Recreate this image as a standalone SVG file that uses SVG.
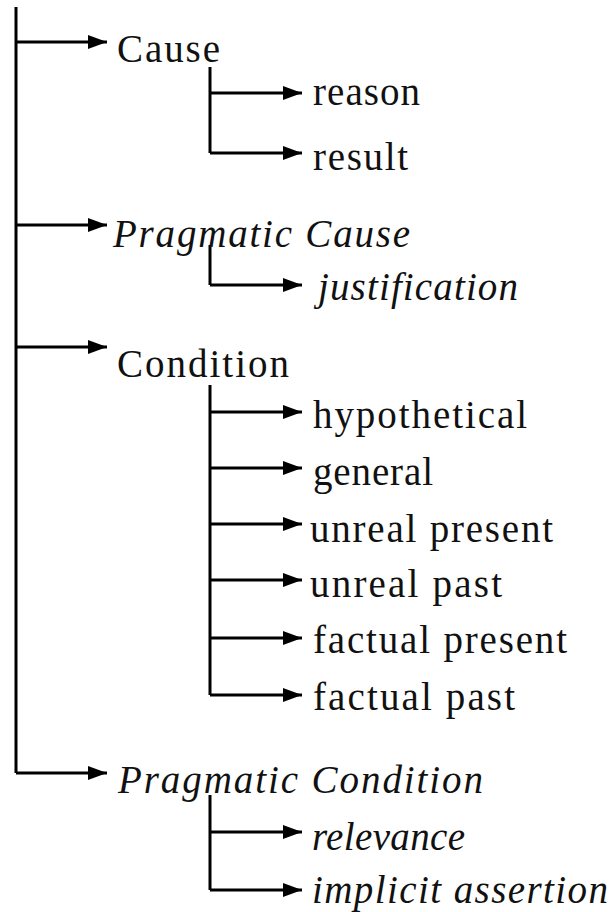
<svg xmlns="http://www.w3.org/2000/svg" width="615" height="912" viewBox="0 0 615 912">
  <style>
    .lbl { font-family: "Liberation Serif", "DejaVu Serif", serif; font-size: 39px; fill: #111; }
    .it { font-style: italic; }
    .wire { fill: none; stroke: #000; stroke-width: 3; stroke-linejoin: miter; }
    .arr { fill: none; stroke: #000; stroke-width: 3; marker-end: url(#head); }
  </style>
  <defs>
    <marker id="head" markerUnits="userSpaceOnUse" markerWidth="20" markerHeight="14" refX="19" refY="7" orient="auto">
      <path d="M0,0 L19,7 L0,14 z" fill="#000"/>
    </marker>
  </defs>
  <rect width="615" height="912" fill="#fff"/>

  <!-- connectors -->
  <g id="connectors">
    <!-- main trunk -->
    <path class="wire" d="M16,7 V773"/>
    <path class="arr" d="M16,42 H107"/>
    <path class="arr" d="M16,225 H107"/>
    <path class="arr" d="M16,347 H107"/>
    <path class="arr" d="M16,773 H107"/>
    <!-- Cause -->
    <path class="wire" d="M210,67 V153"/>
    <path class="arr" d="M210,93 H302"/>
    <path class="arr" d="M210,153 H302"/>
    <!-- Pragmatic Cause -->
    <path class="wire" d="M210,245 V285"/>
    <path class="arr" d="M210,285 H302"/>
    <!-- Condition -->
    <path class="wire" d="M210,385 V695"/>
    <path class="arr" d="M210,412 H302"/>
    <path class="arr" d="M210,468 H302"/>
    <path class="arr" d="M210,524 H302"/>
    <path class="arr" d="M210,580 H302"/>
    <path class="arr" d="M210,638 H302"/>
    <path class="arr" d="M210,695 H302"/>
    <!-- Pragmatic Condition -->
    <path class="wire" d="M210,795 V890"/>
    <path class="arr" d="M210,832 H302"/>
    <path class="arr" d="M210,890 H302"/>
  </g>

  <g id="cause"><text class="lbl" x="117" y="62" textLength="103" lengthAdjust="spacing">Cause</text></g>
  <g id="reason"><text class="lbl" x="313" y="105" textLength="107" lengthAdjust="spacing">reason</text></g>
  <g id="result"><text class="lbl" x="313" y="170" textLength="95" lengthAdjust="spacing">result</text></g>

  <g id="pragmatic-cause"><text class="lbl it" x="113" y="247" textLength="297" lengthAdjust="spacing">Pragmatic Cause</text></g>
  <g id="justification"><text class="lbl it" x="318" y="300" textLength="200" lengthAdjust="spacing">justification</text></g>

  <g id="condition"><text class="lbl" x="117" y="377" textLength="172" lengthAdjust="spacing">Condition</text></g>
  <g id="hypothetical"><text class="lbl" x="313" y="428" textLength="214" lengthAdjust="spacing">hypothetical</text></g>
  <g id="general"><text class="lbl" x="313" y="485" textLength="120" lengthAdjust="spacing">general</text></g>
  <g id="unreal-present"><text class="lbl" x="310" y="542" textLength="243" lengthAdjust="spacing">unreal present</text></g>
  <g id="unreal-past"><text class="lbl" x="310" y="597" textLength="192" lengthAdjust="spacing">unreal past</text></g>
  <g id="factual-present"><text class="lbl" x="313" y="653" textLength="254" lengthAdjust="spacing">factual present</text></g>
  <g id="factual-past"><text class="lbl" x="313" y="710" textLength="202" lengthAdjust="spacing">factual past</text></g>

  <g id="pragmatic-condition"><text class="lbl it" x="118" y="793" textLength="365" lengthAdjust="spacing">Pragmatic Condition</text></g>
  <g id="relevance"><text class="lbl it" x="312" y="850" textLength="153" lengthAdjust="spacing">relevance</text></g>
  <g id="implicit-assertion"><text class="lbl it" x="312" y="903" textLength="296" lengthAdjust="spacing">implicit assertion</text></g>
</svg>
